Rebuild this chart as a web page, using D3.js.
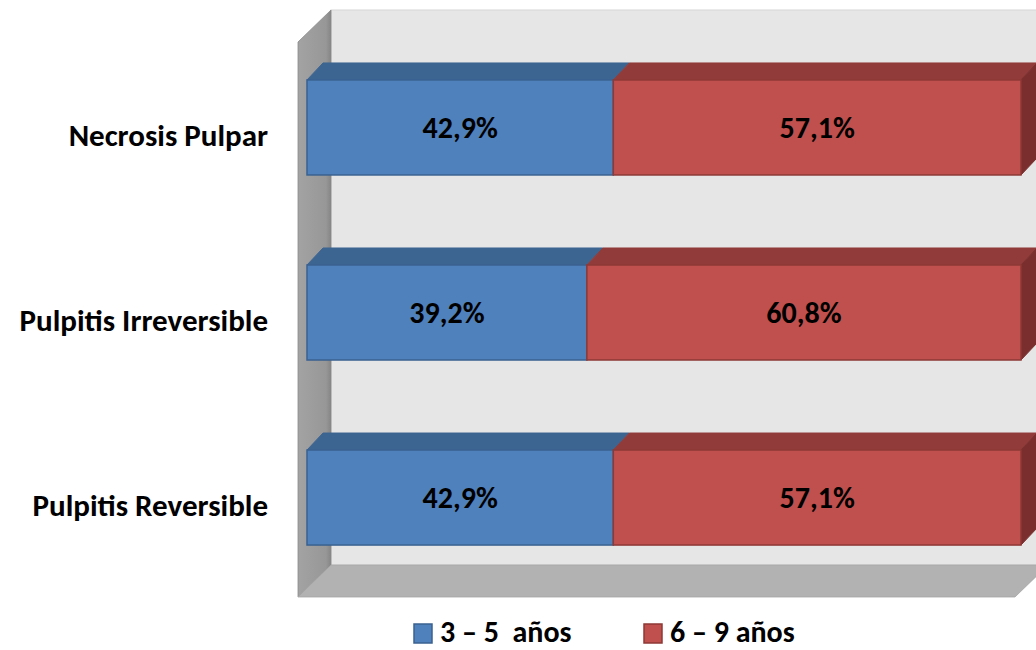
<!DOCTYPE html>
<html>
<head>
<meta charset="utf-8">
<script src="https://cdn.jsdelivr.net/npm/d3@7"></script>
<style>
  html, body { margin: 0; padding: 0; background: #ffffff; }
  svg { display: block; }
  text { font-family: Calibri, Carlito, Lato, "Open Sans", sans-serif; font-weight: bold; fill: #000; }
</style>
</head>
<body>
<svg id="chart" width="1036" height="650"></svg>
<script>
// Diagnosis categories, top to bottom
const categories = ["Necrosis Pulpar", "Pulpitis Irreversible", "Pulpitis Reversible"];
// Age groups (series)
const seriesNames = ["3 – 5  años", "6 – 9 años"];
// Percentage of each age group per diagnosis
const age3to5 = [42.9, 39.2, 42.9];
const age6to9 = [57.1, 60.8, 57.1];

const seriesValues = [age3to5, age6to9];
const palette = [
  { front: "#4f81bd", top: "#3d6592", side: "#335579", stroke: "#3a6190" },
  { front: "#c0504d", top: "#913c3a", side: "#7a2f2e", stroke: "#8e3936" }
];

const svg = d3.select("#chart");
const W = 1036;

// 3D frame geometry
const wallDX = 33, wallDY = 32;           // depth of walls/floor
const frameLeft = 298, frameTop = 42, floorFront = 597;
const barDX = 16, barDY = 17;             // depth of bars

const x = d3.scaleLinear().domain([0, 100]).range([307, 1021]);
const y = d3.scaleBand().domain(categories).range([35, 590])
  .paddingInner(90 / 185).paddingOuter(0.243);

const defs = svg.append("defs");
const g1 = defs.append("linearGradient").attr("id", "sideWall").attr("x1", 0).attr("x2", 1).attr("y1", 0).attr("y2", 0);
g1.append("stop").attr("offset", "0%").attr("stop-color", "#a3a3a3");
g1.append("stop").attr("offset", "85%").attr("stop-color", "#979797");
g1.append("stop").attr("offset", "100%").attr("stop-color", "#858585");

const frame = svg.append("g");
// back wall
frame.append("rect")
  .attr("x", frameLeft + wallDX).attr("y", frameTop - wallDY)
  .attr("width", W - (frameLeft + wallDX) + 2)
  .attr("height", floorFront - wallDY - (frameTop - wallDY))
  .attr("fill", "#e6e6e6").attr("stroke", "#d6d6d6").attr("stroke-width", 1);
// side wall
frame.append("polygon")
  .attr("points", [
    [frameLeft, frameTop], [frameLeft + wallDX, frameTop - wallDY],
    [frameLeft + wallDX, floorFront - wallDY], [frameLeft, floorFront]
  ].map(p => p.join(",")).join(" "))
  .attr("fill", "url(#sideWall)").attr("stroke", "#8a8a8a").attr("stroke-width", 0.8);
// floor
frame.append("polygon")
  .attr("points", [
    [frameLeft, floorFront], [frameLeft + wallDX, floorFront - wallDY],
    [1048, floorFront - wallDY], [1015, floorFront]
  ].map(p => p.join(",")).join(" "))
  .attr("fill", "#b2b2b2").attr("stroke", "#a5a5a5").attr("stroke-width", 0.8);

// stacked segments
const stacked = [];
categories.forEach((c, i) => {
  let acc = 0;
  seriesValues.forEach((vals, s) => {
    stacked.push({ cat: c, s, v: vals[i], x0: acc, x1: acc + vals[i], last: s === seriesValues.length - 1 });
    acc += vals[i];
  });
});

const bars = svg.append("g");
const seg = bars.selectAll("g.seg").data(stacked).join("g").attr("class", "seg");

// top faces
seg.append("polygon")
  .attr("points", d => {
    const a = x(d.x0), b = x(d.x1), t = y(d.cat);
    return [[a, t], [a + barDX, t - barDY], [b + barDX, t - barDY], [b, t]].map(p => p.join(",")).join(" ");
  })
  .attr("fill", d => palette[d.s].top)
  .attr("stroke", d => palette[d.s].top).attr("stroke-width", 1).attr("stroke-linejoin", "round");

// right side of the last segment
seg.filter(d => d.last).append("polygon")
  .attr("points", d => {
    const b = x(d.x1), t = y(d.cat), h = y.bandwidth();
    return [[b, t], [b + barDX, t - barDY], [b + barDX, t + h - barDY], [b, t + h]].map(p => p.join(",")).join(" ");
  })
  .attr("fill", d => palette[d.s].side)
  .attr("stroke", d => palette[d.s].side).attr("stroke-width", 1);

// front faces
seg.append("rect")
  .attr("x", d => x(d.x0)).attr("y", d => y(d.cat))
  .attr("width", d => x(d.x1) - x(d.x0)).attr("height", y.bandwidth())
  .attr("fill", d => palette[d.s].front)
  .attr("stroke", d => palette[d.s].stroke).attr("stroke-width", 1.5);

// value labels
const fmt = v => d3.format(".1f")(v).replace(".", ",") + "%";
seg.append("text")
  .attr("x", d => x((d.x0 + d.x1) / 2))
  .attr("y", d => y(d.cat) + 58)
  .attr("text-anchor", "middle")
  .style("font-size", "30px")
  .text(d => fmt(d.v));

// category labels
svg.append("g").selectAll("text").data(categories).join("text")
  .attr("x", 268)
  .attr("y", d => y(d) + 66)
  .attr("text-anchor", "end")
  .style("font-size", "31px")
  .text(d => d);

// legend
const legendX = [414, 644];
const legend = svg.append("g").selectAll("g").data(seriesNames).join("g")
  .attr("transform", (d, i) => `translate(${legendX[i]},624)`);
legend.append("rect")
  .attr("x", 0).attr("y", 0).attr("width", 18).attr("height", 19)
  .attr("fill", (d, i) => palette[i].front)
  .attr("stroke", (d, i) => palette[i].stroke).attr("stroke-width", 1.5);
legend.append("text")
  .attr("x", 26).attr("y", 18)
  .style("font-size", "30px")
  .style("white-space", "pre")
  .text(d => d);
</script>
</body>
</html>
